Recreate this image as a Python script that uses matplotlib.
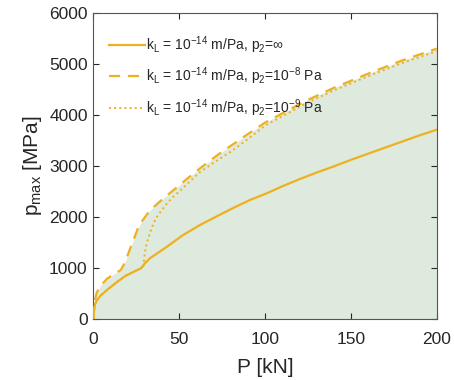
import matplotlib
matplotlib.use("Agg")
import matplotlib.pyplot as plt
import numpy as np

plt.rcParams['font.family'] = ['Liberation Sans', 'DejaVu Sans']
plt.rcParams['mathtext.fontset'] = 'custom'
plt.rcParams['mathtext.rm'] = 'Liberation Sans'
plt.rcParams['mathtext.it'] = 'Liberation Sans'

# Load P [kN] and maximum pressure p_max [MPa] for the three cases
P_inf = [0, 0.5, 1, 2, 4, 8, 14, 19, 25, 28, 30, 33, 43, 52, 62, 72, 82, 91,
         100, 110, 120, 130, 140, 150, 160, 170, 180, 190, 200]
p_inf = [0, 200, 290, 360, 450, 570, 730, 850, 950, 1000, 1090, 1190, 1420,
         1640, 1840, 2015, 2185, 2330, 2450, 2600, 2740, 2870, 2990, 3120,
         3240, 3360, 3480, 3600, 3710]

P_e8 = [0, 1, 2, 4, 8, 12, 16, 18, 20, 22, 24, 26, 28, 33, 41, 49, 55, 62,
        69, 75, 82, 88, 100, 124, 140, 163, 180, 200]
p_e8 = [0, 380, 520, 640, 790, 880, 960, 1080, 1250, 1430, 1600, 1780, 1900,
        2130, 2370, 2590, 2760, 2950, 3130, 3280, 3440, 3580, 3850, 4280,
        4530, 4850, 5070, 5300]

P_e9 = [0, 0.5, 1, 2, 4, 8, 14, 19, 25, 28, 29, 29.5, 30, 31, 33, 35, 37, 40,
        43, 47, 51, 56, 62, 70, 80, 89, 100, 124, 140, 163, 180, 200]
p_e9 = [0, 200, 290, 360, 450, 570, 730, 850, 950, 990, 1010, 1150, 1300,
        1470, 1690, 1870, 2000, 2140, 2270, 2410, 2530, 2690, 2880, 3060,
        3280, 3500, 3790, 4230, 4480, 4800, 5020, 5250]

labels = [
    r'k$_\mathregular{L}$ = 10$^\mathregular{-14}$ m/Pa, p$_\mathregular{2}$=$\infty$',
    r'k$_\mathregular{L}$ = 10$^\mathregular{-14}$ m/Pa, p$_\mathregular{2}$=10$^\mathregular{-8}$ Pa',
    r'k$_\mathregular{L}$ = 10$^\mathregular{-14}$ m/Pa, p$_\mathregular{2}$=10$^\mathregular{-9}$ Pa',
]

line_color = '#EDB120'
fill_color = '#deeadd'
axis_grey = '#262626'

fig = plt.figure(figsize=(4.54, 3.80), dpi=100)
ax = fig.add_axes([0.2055, 0.1605, 0.7565, 0.8055])

# Shaded envelope under the upper curve
ax.fill_between(P_e8, 0, p_e8, color=fill_color, lw=0, zorder=1)

ax.plot(P_inf, p_inf, '-', color=line_color, lw=1.6, label=labels[0], zorder=3)
ax.plot(P_e8, p_e8, '--', color=line_color, lw=1.6, dashes=(5, 3.5),
        label=labels[1], zorder=3)
ax.plot(P_e9, p_e9, ':', color=line_color, lw=1.4, label=labels[2], zorder=3)

ax.set_xlim(0, 200)
ax.set_ylim(0, 6000)
ax.set_xticks([0, 50, 100, 150, 200])
ax.set_yticks([0, 1000, 2000, 3000, 4000, 5000, 6000])

ax.tick_params(direction='in', top=True, right=True, length=4, width=0.8,
               labelsize=12.5, colors=axis_grey)
ax.tick_params(axis='x', pad=9)
ax.tick_params(axis='y', pad=4)
for s in ax.spines.values():
    s.set_color('#555555')
    s.set_linewidth(0.8)

ax.set_xlabel('P [kN]', fontsize=15, color=axis_grey, labelpad=8)
ax.set_ylabel(r'p$_\mathregular{max}$ [MPa]', fontsize=15, color=axis_grey,
              labelpad=4)

leg = ax.legend(loc='upper left', frameon=False, fontsize=10,
                handlelength=2.6, handletextpad=0.05, labelspacing=0.7,
                borderaxespad=0.0, bbox_to_anchor=(0.03, 0.948))
for t in leg.get_texts():
    t.set_color(axis_grey)

fig.savefig('out.png', dpi=100, facecolor='white')
